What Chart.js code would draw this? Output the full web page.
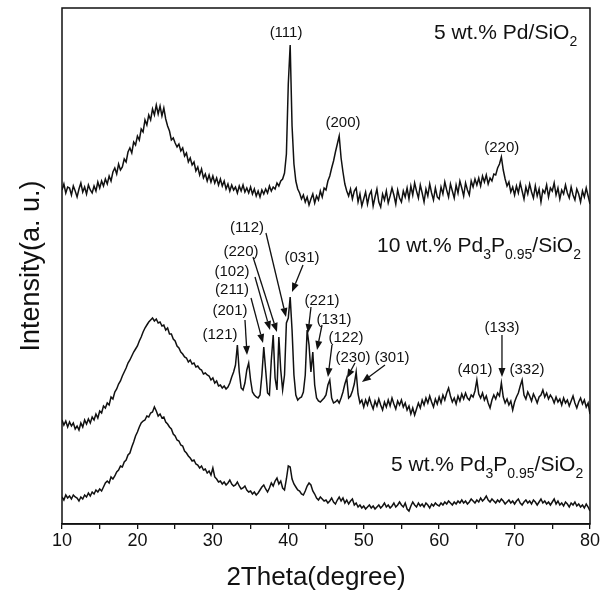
<!DOCTYPE html>
<html>
<head>
<meta charset="utf-8">
<script src="https://cdn.jsdelivr.net/npm/chart.js@4/dist/chart.umd.min.js"></script>
<style>
  html, body { margin: 0; padding: 0; background: #fff; }
  #wrap { width: 605px; height: 599px; }
</style>
</head>
<body>
<div id="wrap"><canvas id="xrd" width="605" height="599"></canvas></div>
<script>
// ---------- DATA ----------
// 2theta grid (degree)
const twoTheta = [
  10,10.25,10.5,10.75,11,11.25,11.5,11.75,12,12.25,12.5,12.75,13,13.25,13.5,13.75,14,14.25,14.5,14.75,
  15,15.25,15.5,15.75,16,16.25,16.5,16.75,17,17.25,17.5,17.75,18,18.25,18.5,18.75,19,19.25,19.5,19.75,
  20,20.25,20.5,20.75,21,21.25,21.5,21.75,22,22.25,22.5,22.75,23,23.25,23.5,23.75,24,24.25,24.5,24.75,
  25,25.25,25.5,25.75,26,26.25,26.5,26.75,27,27.25,27.5,27.75,28,28.25,28.5,28.75,29,29.25,29.5,29.75,
  30,30.25,30.5,30.75,31,31.25,31.5,31.75,32,32.25,32.5,32.75,33,33.25,33.5,33.75,34,34.25,34.5,34.75,
  35,35.25,35.5,35.75,36,36.25,36.5,36.75,37,37.25,37.5,37.75,38,38.25,38.5,38.75,39,39.25,39.5,39.75,
  40,40.25,40.5,40.75,41,41.25,41.5,41.75,42,42.25,42.5,42.75,43,43.25,43.5,43.75,44,44.25,44.5,44.75,
  45,45.25,45.5,45.75,46,46.25,46.5,46.75,47,47.25,47.5,47.75,48,48.25,48.5,48.75,49,49.25,49.5,49.75,
  50,50.25,50.5,50.75,51,51.25,51.5,51.75,52,52.25,52.5,52.75,53,53.25,53.5,53.75,54,54.25,54.5,54.75,
  55,55.25,55.5,55.75,56,56.25,56.5,56.75,57,57.25,57.5,57.75,58,58.25,58.5,58.75,59,59.25,59.5,59.75,
  60,60.25,60.5,60.75,61,61.25,61.5,61.75,62,62.25,62.5,62.75,63,63.25,63.5,63.75,64,64.25,64.5,64.75,
  65,65.25,65.5,65.75,66,66.25,66.5,66.75,67,67.25,67.5,67.75,68,68.25,68.5,68.75,69,69.25,69.5,69.75,
  70,70.25,70.5,70.75,71,71.25,71.5,71.75,72,72.25,72.5,72.75,73,73.25,73.5,73.75,74,74.25,74.5,74.75,
  75,75.25,75.5,75.75,76,76.25,76.5,76.75,77,77.25,77.5,77.75,78,78.25,78.5,78.75,79,79.25,79.5,79.75,
  80
];

// 5 wt.% Pd/SiO2 (offset trace, a.u.)
const pdSiO2 = [
  334,340,331,337,336,329,338,333,327,335,341,332,337,330,339,334,331,338,333,342,
  336,343,338,345,340,348,343,352,356,350,360,354,357,365,362,372,376,371,382,379,
  388,384,395,392,404,399,409,404,415,409,419,410,418,408,416,405,398,393,384,386,
  381,377,380,373,376,368,371,362,366,359,362,353,357,349,355,346,350,343,349,342,
  348,341,346,339,345,338,343,335,340,333,339,334,337,331,338,333,339,332,336,331,
  337,330,335,328,333,327,334,330,335,331,338,333,337,335,341,338,343,345,351,370,
  440,479,398,360,343,335,331,325,329,322,327,319,325,330,321,328,324,333,327,336,
  334,343,348,356,363,372,380,388,366,352,340,333,328,335,325,333,336,322,330,318,
  325,332,320,329,333,318,327,335,322,317,330,324,333,321,328,336,329,320,334,326,
  322,333,327,336,325,338,329,341,333,326,339,331,322,335,328,340,331,324,336,327,
  325,337,330,342,334,327,340,333,326,339,331,343,336,328,341,334,329,343,337,345,
  339,346,338,348,342,349,340,346,343,350,349,356,360,367,354,345,338,342,332,337,
  329,338,331,341,333,325,337,330,340,332,326,338,328,335,322,334,331,339,327,336,
  333,341,329,336,325,334,330,339,331,326,337,329,324,335,330,322,333,327,336,328,
  320
];

// 10 wt.% Pd3P0.95/SiO2
const pd3p10 = [
  104,99,103,97,102,98,101,95,98,94,101,97,104,100,105,101,107,104,110,106,
  113,111,118,116,121,119,127,125,132,135,140,143,148,152,156,161,164,168,172,175,
  178,183,187,192,196,199,202,204,206,203,205,201,202,198,199,194,196,190,190,185,
  183,178,176,172,170,167,166,162,164,160,161,157,158,155,154,150,151,149,148,144,
  146,141,143,138,139,136,138,135,137,141,147,152,159,179,152,136,134,141,154,161,
  144,132,129,127,126,129,149,177,154,131,129,164,189,146,134,187,154,134,149,201,
  206,227,194,149,129,124,126,127,132,149,194,179,152,172,139,126,123,122,124,126,
  129,139,144,126,121,122,124,121,126,132,140,146,126,128,133,140,152,130,121,124,
  117,124,119,126,120,115,123,118,125,119,114,122,117,124,118,126,120,115,123,119,
  124,117,121,114,118,110,116,109,115,121,116,124,119,126,121,128,122,117,125,120,
  127,121,129,124,131,136,128,122,126,120,128,123,130,125,131,126,124,129,127,133,
  144,130,126,131,124,128,121,116,124,129,125,131,128,141,127,121,125,119,123,114,
  122,127,131,138,144,129,125,132,128,123,130,126,121,127,129,134,127,131,125,129,
  126,121,127,122,125,119,126,121,124,118,123,128,121,116,122,126,120,124,117,121,
  110
];

// 5 wt.% Pd3P0.95/SiO2
const pd3p5 = [
  27,24,29,26,28,25,29,27,26,23,27,25,29,27,31,28,32,30,34,32,
  35,33,37,41,43,41,47,45,48,52,54,58,57,62,64,69,71,77,82,88,
  92,97,101,103,104,108,107,111,112,117,113,108,110,106,107,102,100,97,95,90,
  88,84,83,79,78,73,71,68,66,63,64,60,59,56,58,54,55,51,53,49,
  56,47,45,42,43,40,42,39,41,44,40,38,39,42,38,35,36,38,34,32,
  33,30,32,29,31,34,37,39,35,32,36,41,38,43,46,40,43,36,34,45,
  58,57,45,40,37,34,33,30,29,33,38,41,39,33,30,26,24,27,25,23,
  24,21,23,26,22,20,24,27,23,26,21,24,20,23,25,19,21,17,19,16,
  18,15,17,19,16,18,15,17,19,16,18,21,17,19,16,18,21,17,19,22,
  19,17,21,15,13,18,22,19,17,21,18,20,17,21,19,16,20,18,21,19,
  18,21,19,22,20,23,21,19,22,20,23,21,24,21,23,20,22,25,23,21,
  24,22,26,23,25,28,24,22,25,23,21,24,22,25,23,20,22,24,21,23,
  20,23,25,21,19,22,24,21,23,20,24,22,19,22,25,21,23,20,22,19,
  22,25,20,23,19,21,18,22,20,17,21,19,22,18,20,17,19,16,20,17,
  13
];

const xTicks = [10, 20, 30, 40, 50, 60, 70, 80];
const xTitle = "2Theta(degree)";
const yTitle = "Intensity(a. u.)";

// sample names, [text, isSubscript]
const sampleNames = [
  [["5 wt.% Pd/SiO", 0], ["2", 1]],
  [["10 wt.% Pd", 0], ["3", 1], ["P", 0], ["0.95", 1], ["/SiO", 0], ["2", 1]],
  [["5 wt.% Pd", 0], ["3", 1], ["P", 0], ["0.95", 1], ["/SiO", 0], ["2", 1]]
];
// right end / vertical centre, in axis units
const sampleNamePos = [[78.3, 492], [78.8, 279], [79.1, 60]];

// reflections
const peakNames = ["(111)", "(200)", "(220)",
  "(112)", "(220)", "(031)", "(102)", "(211)", "(201)", "(121)",
  "(221)", "(131)", "(122)", "(230)", "(301)", "(133)", "(401)", "(332)"];
const peakNamePos = [[39.7, 491], [47.25, 401], [68.3, 376],
  [34.53, 296], [33.73, 272], [41.82, 266], [32.54, 252], [32.54, 234], [32.27, 213], [30.95, 189],
  [44.47, 223], [46.06, 204], [47.65, 186], [48.58, 166], [53.75, 166], [68.33, 196], [64.75, 154], [71.65, 154]];

// arrows: from (2theta, I) to (2theta, I)
const arrows = [
  [37.04, 291, 39.70, 207], [35.32, 267, 38.50, 192], [35.59, 247, 37.58, 194],
  [35.06, 226, 36.65, 181], [34.26, 204, 34.53, 169], [41.95, 259, 40.49, 232],
  [43.01, 217, 42.61, 191], [44.47, 199, 43.81, 174], [45.79, 179, 45.26, 147],
  [48.84, 161, 47.78, 146], [52.82, 159, 49.77, 142], [68.33, 189, 68.33, 147]
];

// ---------- HELPERS ----------
const FONT = "'Liberation Sans', Arial, Helvetica, sans-serif";
const INK = "#111";

const toXY = ys => ys.map((v, i) => ({ x: twoTheta[i], y: v }));

const trace = ys => ({
  data: toXY(ys),
  borderColor: INK,
  borderWidth: 1.5,
  pointRadius: 0,
  tension: 0,
  fill: false
});

// frame, axis title, peak labels, arrows, sample names
const overlay = {
  id: "overlay",
  afterDatasetsDraw(chart) {
    const { ctx, chartArea: a, scales: { x, y } } = chart;
    ctx.save();

    ctx.strokeStyle = INK;
    ctx.lineWidth = 1.5;
    ctx.strokeRect(a.left, a.top, a.right - a.left, a.bottom - a.top);

    ctx.fillStyle = INK;

    // x title (sits a little left of the axis centre in the original)
    ctx.font = "26px " + FONT;
    ctx.textAlign = "center";
    ctx.textBaseline = "middle";
    ctx.fillText(xTitle, (a.left + a.right) / 2 - 10, 578);

    ctx.font = "15px " + FONT;
    peakNames.forEach((t, i) => {
      ctx.fillText(t, x.getPixelForValue(peakNamePos[i][0]), y.getPixelForValue(peakNamePos[i][1]));
    });

    ctx.lineWidth = 1.3;
    arrows.forEach(([x0, y0, x1, y1]) => {
      const px0 = x.getPixelForValue(x0), py0 = y.getPixelForValue(y0);
      const px1 = x.getPixelForValue(x1), py1 = y.getPixelForValue(y1);
      const ang = Math.atan2(py1 - py0, px1 - px0);
      const L = 9, W = 3.5;
      const bx = px1 - L * Math.cos(ang), by = py1 - L * Math.sin(ang);
      ctx.beginPath();
      ctx.moveTo(px0, py0);
      ctx.lineTo(bx, by);
      ctx.stroke();
      ctx.beginPath();
      ctx.moveTo(px1, py1);
      ctx.lineTo(bx + W * Math.sin(ang), by - W * Math.cos(ang));
      ctx.lineTo(bx - W * Math.sin(ang), by + W * Math.cos(ang));
      ctx.closePath();
      ctx.fill();
    });

    // sample names with subscripts, right aligned
    const main = "21px " + FONT, sub = "14px " + FONT;
    ctx.textAlign = "left";
    ctx.textBaseline = "alphabetic";
    sampleNames.forEach((segs, i) => {
      let w = 0;
      segs.forEach(([t, s]) => { ctx.font = s ? sub : main; w += ctx.measureText(t).width; });
      let px = x.getPixelForValue(sampleNamePos[i][0]) - w;
      const base = y.getPixelForValue(sampleNamePos[i][1]) + 7;
      segs.forEach(([t, s]) => {
        ctx.font = s ? sub : main;
        ctx.fillText(t, px, s ? base + 7 : base);
        px += ctx.measureText(t).width;
      });
    });

    ctx.restore();
  }
};

// ---------- CHART ----------
new Chart(document.getElementById("xrd"), {
  type: "line",
  data: {
    datasets: [trace(pdSiO2), trace(pd3p10), trace(pd3p5)]
  },
  options: {
    responsive: false,
    animation: false,
    layout: { padding: { left: 0, right: 15, top: 8, bottom: 0 } },
    plugins: { legend: { display: false }, tooltip: { enabled: false } },
    scales: {
      x: {
        type: "linear",
        min: 10,
        max: 80,
        afterBuildTicks: s => { s.ticks = [10,15,20,25,30,35,40,45,50,55,60,65,70,75,80].map(v => ({ value: v })); },
        afterFit: s => { s.height = 75; },
        ticks: {
          autoSkip: false,
          maxRotation: 0,
          padding: 1,
          color: INK,
          font: { family: FONT, size: 18 },
          callback: v => xTicks.includes(v) ? String(v) : ""
        },
        grid: { display: true, drawOnChartArea: false, tickLength: 5, color: INK, lineWidth: 1.3 },
        border: { display: true, color: INK, width: 1.5 }
      },
      y: {
        min: 0,
        max: 516,
        afterFit: s => { s.width = 62; },
        ticks: { display: false },
        grid: { display: false, drawTicks: false },
        border: { display: false },
        title: {
          display: true,
          text: yTitle,
          color: INK,
          font: { family: FONT, size: 27 },
          padding: { top: 15, bottom: 15 }
        }
      }
    }
  },
  plugins: [overlay]
});
</script>
</body>
</html>
